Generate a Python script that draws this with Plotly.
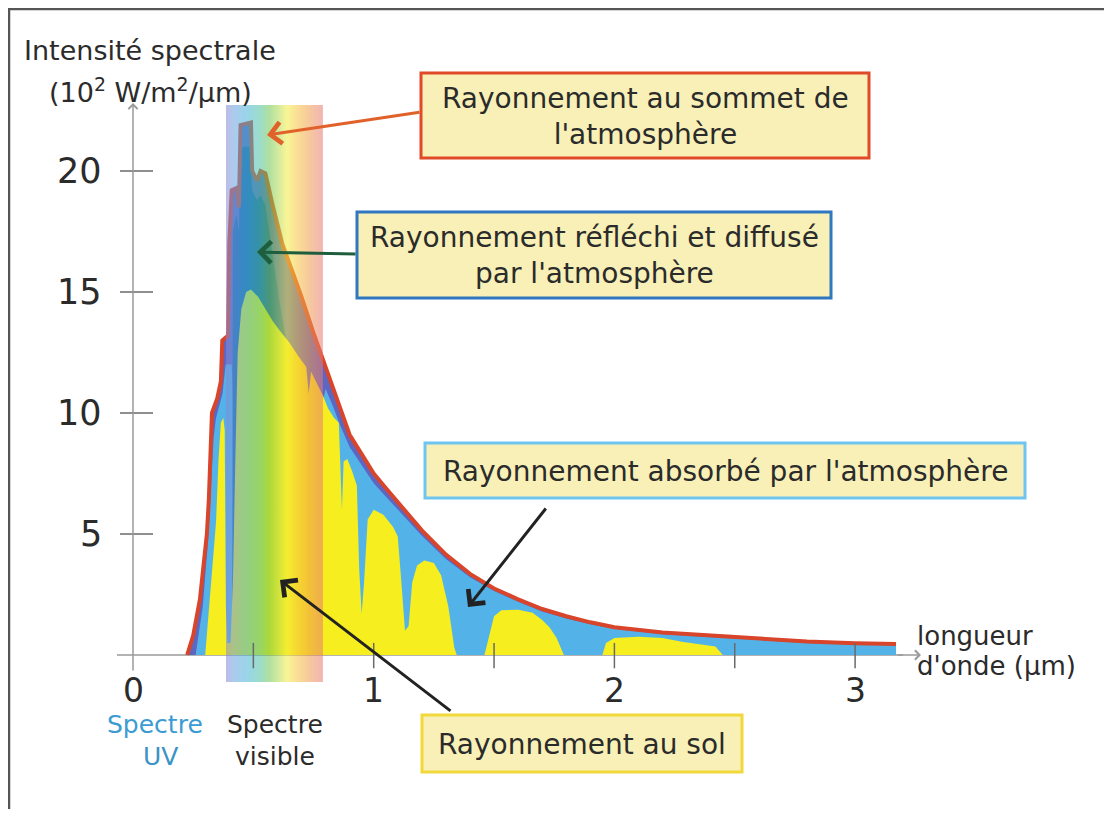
import base64
import plotly.graph_objects as go

# ---------------- data (µm, 10^2 W/m2/µm) ----------------
toa_x = [0.225, 0.25, 0.278, 0.30, 0.307, 0.315, 0.328, 0.35, 0.365, 0.371, 0.385, 0.395,
         0.40, 0.41, 0.43, 0.44, 0.447, 0.49, 0.495, 0.515, 0.53, 0.55, 0.58, 0.62, 0.66,
         0.70, 0.75, 0.80, 0.86, 0.90, 0.95, 1.00, 1.05, 1.10, 1.15, 1.20, 1.30, 1.40,
         1.50, 1.60, 1.70, 1.80, 1.90, 2.00, 2.20, 2.40, 2.60, 2.80, 3.00, 3.17]
toa_y = [0.0, 0.8, 2.3, 4.2, 5.0, 6.4, 10.0, 10.6, 11.3, 13.0, 13.1, 13.2,
         17.0, 19.2, 19.3, 18.5, 21.9, 22.0, 20.0, 19.6, 20.0, 19.9, 18.6, 17.0, 15.9,
         14.8, 13.3, 11.9, 10.1, 9.1, 8.3, 7.5, 6.9, 6.3, 5.7, 5.15, 4.15, 3.35,
         2.75, 2.3, 1.9, 1.6, 1.35, 1.15, 0.93, 0.8, 0.66, 0.56, 0.49, 0.45]

absorbed_x = [0.26, 0.29, 0.31, 0.325, 0.335, 0.345, 0.36, 0.372, 0.385, 0.41, 0.425, 0.45,
              0.70, 0.78, 0.80, 0.83, 0.86, 0.90, 0.95, 1.00, 1.05, 1.10, 1.15, 1.20, 1.30,
              1.40, 1.50, 1.60, 1.70, 1.80, 1.90, 2.00, 2.20, 2.40, 2.60, 2.80, 3.00, 3.17]
absorbed_y = [0.0, 2.0, 4.5, 7.0, 9.0, 9.8, 10.3, 10.8, 12.0, 12.0, 8.0, 8.0,
              8.0, 10.0, 11.0, 10.3, 9.5, 8.6, 7.85, 7.1, 6.55, 6.0, 5.45, 4.93, 3.97,
              3.21, 2.64, 2.2, 1.8, 1.51, 1.27, 1.08, 0.86, 0.73, 0.6, 0.5, 0.43, 0.39]

scattered_x = [0.412, 0.415, 0.43, 0.44, 0.447, 0.455, 0.485, 0.495, 0.515, 0.53,
               0.55, 0.58, 0.61, 0.64, 0.66]
scattered_y = [0.0, 17.5, 18.2, 17.5, 20.5, 21.0, 21.0, 19.2, 18.8, 19.0,
               18.6, 16.5, 14.5, 12.8, 0.0]

ground_x = [0.30, 0.32, 0.345, 0.355, 0.365, 0.375, 0.381, 0.386, 0.392, 0.405, 0.415,
            0.425, 0.435, 0.45, 0.47, 0.49, 0.52, 0.55, 0.58, 0.61, 0.65, 0.69, 0.72,
            0.73, 0.74, 0.76, 0.79, 0.81, 0.835, 0.855, 0.862, 0.868, 0.875, 0.89, 0.91,
            0.93, 0.94, 0.95, 0.96, 0.975, 1.00, 1.04, 1.08, 1.10, 1.115, 1.13, 1.145,
            1.16, 1.18, 1.21, 1.25, 1.28, 1.31, 1.335, 1.345, 1.46, 1.475, 1.50, 1.53,
            1.60, 1.66, 1.70, 1.73, 1.76, 1.79, 1.95, 1.965, 2.00, 2.10, 2.20, 2.28,
            2.35, 2.42, 2.45]
ground_y = [0.0, 2.3, 5.5, 8.0, 9.6, 9.8, 9.3, 2.0, 0.5, 0.5, 3.0,
            8.0, 12.5, 14.3, 15.0, 15.1, 14.8, 14.3, 13.8, 13.4, 12.9, 12.3, 11.9,
            10.8, 11.7, 11.3, 10.7, 10.2, 9.8, 9.6, 8.0, 6.0, 8.0, 8.1, 7.6,
            7.0, 3.5, 1.7, 3.0, 5.6, 6.0, 5.8, 5.3, 4.9, 3.0, 1.0, 1.2,
            3.0, 3.7, 3.9, 3.8, 3.3, 2.0, 0.3, 0.0, 0.0, 0.6, 1.6, 1.85,
            1.87, 1.75, 1.45, 1.15, 0.7, 0.0, 0.0, 0.5, 0.7, 0.75, 0.7, 0.55,
            0.45, 0.35, 0.0]

x_tick_labels = ["0", "1", "2", "3"]
x_tick_values = [0, 1, 2, 3]
x_minor_ticks = [0.5, 1, 1.5, 2, 2.5, 3]
y_tick_values = [5, 10, 15, 20]
y_tick_labels = ["5", "10", "15", "20"]
visible_band = [0.386, 0.789]

# ---------------- geometry ----------------
OFF = 8                  # page (body) margin in the browser
W, H = 1096, 801         # figure size; page pixels = figure pixels + OFF
X0, SX = 133.0, 240.7    # page pixel of x=0, pixels per µm
Y0, SY = 655.0, 24.2     # page pixel of y=0, pixels per unit


def dx(p):
    return (p - X0) / SX


def dy(p):
    return (Y0 - p) / SY


def px(p):
    return (p - OFF) / W


def py(p):
    return 1 - (p - OFF) / H


FONT = "DejaVu Sans"
TXT = "#2b2b2b"

fig = go.Figure()

fig.add_trace(go.Scatter(x=toa_x, y=toa_y, mode="lines", fill="tozeroy",
                         fillcolor="#5d66c0", line=dict(width=0, color="#5d66c0"),
                         hoverinfo="skip", showlegend=False))
fig.add_trace(go.Scatter(x=absorbed_x, y=absorbed_y, mode="lines", fill="tozeroy",
                         fillcolor="#53b3e9", line=dict(width=0, color="#53b3e9"),
                         hoverinfo="skip", showlegend=False))
fig.add_trace(go.Scatter(x=scattered_x, y=scattered_y, mode="lines", fill="tozeroy",
                         fillcolor="#1c5ca8", line=dict(width=0, color="#1c5ca8"),
                         hoverinfo="skip", showlegend=False))
fig.add_trace(go.Scatter(x=ground_x, y=ground_y, mode="lines", fill="tozeroy",
                         fillcolor="#f6ee1e", line=dict(width=0, color="#f6ee1e"),
                         hoverinfo="skip", showlegend=False))
fig.add_trace(go.Scatter(x=toa_x, y=toa_y, mode="lines",
                         line=dict(width=4, color="#d8452a"),
                         hoverinfo="skip", showlegend=False))

# ---------------- visible spectrum band (gradient overlay) ----------------
stops = [(0.0, "#8a86d4"), (0.08, "#6aa0e0"), (0.22, "#46b4d8"), (0.35, "#4cc0a0"),
         (0.45, "#70c850"), (0.55, "#b8dc50"), (0.63, "#f4ee40"), (0.75, "#f6c040"),
         (0.87, "#f09a50"), (1.0, "#e87878")]
stop_xml = "".join(f"<stop offset='{o}' stop-color='{c}'/>" for o, c in stops)
svg = ("<svg xmlns='http://www.w3.org/2000/svg' width='200' height='200' "
       "viewBox='0 0 200 200' preserveAspectRatio='none'><defs>"
       "<linearGradient id='g' x1='0' y1='0' x2='1' y2='0'>" + stop_xml +
       "</linearGradient></defs><rect x='0' y='0' width='200' height='200' fill='url(#g)'/></svg>")
uri = "data:image/svg+xml;base64," + base64.b64encode(svg.encode()).decode()
band_top, band_bottom = dy(105), dy(682)
fig.add_layout_image(dict(source=uri, xref="x", yref="y", x=visible_band[0], y=band_top,
                          sizex=visible_band[1] - visible_band[0], sizey=band_top - band_bottom,
                          xanchor="left", yanchor="top", sizing="stretch",
                          opacity=0.55, layer="above"))

shapes = []
AX = "#9a9a9a"
# x axis line (under the data)
shapes.append(dict(type="line", xref="x", yref="y", x0=dx(117), x1=3.2, y0=0, y1=0,
                   line=dict(color=AX, width=1.5), layer="below"))
# ticks
for t in x_minor_ticks:
    shapes.append(dict(type="line", xref="x", yref="y", x0=t, x1=t, y0=-0.55, y1=0.5,
                       line=dict(color="#6a6a6a", width=1.5), layer="above"))
for t in y_tick_values:
    shapes.append(dict(type="line", xref="x", yref="y", x0=dx(120), x1=dx(153), y0=t, y1=t,
                       line=dict(color="#6a6a6a", width=1.5), layer="above"))
# frame
shapes.append(dict(type="line", xref="paper", yref="paper", x0=px(8), x1=1, y0=py(9), y1=py(9),
                   line=dict(color="#555555", width=2.5)))
shapes.append(dict(type="line", xref="paper", yref="paper", x0=px(9), x1=px(9), y0=py(8), y1=0,
                   line=dict(color="#555555", width=2.5)))

# label boxes
boxes = [
    ((421, 73, 869, 158), "#e04a28", "Rayonnement au sommet de<br>l'atmosphère"),
    ((357, 212, 831, 298), "#2f77bf", "Rayonnement réfléchi et diffusé<br>par l'atmosphère"),
    ((425, 443, 1025, 498), "#6ec6f0", "Rayonnement absorbé par l'atmosphère"),
    ((422, 715, 742, 772), "#f2d83a", "Rayonnement au sol"),
]
annotations = []
for (x0, y0, x1, y1), col, txt in boxes:
    shapes.append(dict(type="rect", xref="paper", yref="paper", x0=px(x0), x1=px(x1),
                       y0=py(y0), y1=py(y1), fillcolor="#f8f0b6",
                       line=dict(color=col, width=3), layer="above"))
    annotations.append(dict(xref="paper", yref="paper", x=px((x0 + x1) / 2), y=py((y0 + y1) / 2 + 1),
                            text=txt, showarrow=False, xanchor="center", yanchor="middle",
                            font=dict(family=FONT, size=28, color=TXT), align="center"))

# arrows (head -> x,y ; tail -> ax,ay)
arrows = [
    ((267, 135), (421, 112), "#e0622a"),
    ((257, 252), (357, 254), "#1e5e3c"),
    ((468, 607), (547, 507), "#222222"),
    ((280, 580), (452, 712), "#222222"),
]
for (hx, hy), (tx, ty), col in arrows:
    annotations.append(dict(xref="x", yref="y", axref="x", ayref="y",
                            x=dx(hx), y=dy(hy), ax=dx(tx), ay=dy(ty), text="",
                            showarrow=True, arrowhead=4, arrowsize=1.4, arrowwidth=3,
                            arrowcolor=col))

# axis arrows
annotations.append(dict(xref="x", yref="y", axref="x", ayref="y", x=0, y=dy(103), ax=0, ay=dy(672),
                        text="", showarrow=True, arrowhead=4, arrowsize=1.2, arrowwidth=1.5,
                        arrowcolor=AX))
annotations.append(dict(xref="x", yref="y", axref="x", ayref="y", x=dx(921), y=0, ax=3.17, ay=0,
                        text="", showarrow=True, arrowhead=4, arrowsize=1.2, arrowwidth=1.5,
                        arrowcolor=AX))

# tick labels
for v, lab in zip(x_tick_values, x_tick_labels):
    annotations.append(dict(xref="x", yref="y", x=v, y=dy(690), text=lab, showarrow=False,
                            xanchor="center", yanchor="middle",
                            font=dict(family=FONT, size=33, color=TXT)))
for v, lab in zip(y_tick_values, y_tick_labels):
    annotations.append(dict(xref="x", yref="y", x=dx(104), y=v, text=lab, showarrow=False,
                            xanchor="right", yanchor="middle",
                            font=dict(family=FONT, size=35, color=TXT)))

# axis titles and band labels
texts = [
    (22, 50, "left", "Intensité spectrale", 27, TXT),
    (47, 90, "left", "(10<sup>2</sup> W/m<sup>2</sup>/µm)", 27, TXT),
    (915, 636, "left", "longueur", 26, TXT),
    (915, 666, "left", "d'onde (µm)", 26, TXT),
    (155, 724, "center", "Spectre", 25, "#3b9bd3"),
    (160, 756, "center", "UV", 25, "#3b93c6"),
    (275, 724, "center", "Spectre", 25, TXT),
    (275, 756, "center", "visible", 25, TXT),
]
for x, y, anc, t, s, c in texts:
    annotations.append(dict(xref="paper", yref="paper", x=px(x), y=py(y), text=t,
                            showarrow=False, xanchor=anc, yanchor="middle",
                            font=dict(family=FONT, size=s, color=c)))

fig.update_layout(
    width=W, height=H, autosize=False,
    margin=dict(l=0, r=0, t=0, b=0, pad=0),
    paper_bgcolor="white", plot_bgcolor="white",
    xaxis=dict(range=[dx(OFF), dx(OFF + W)], visible=False, fixedrange=True),
    yaxis=dict(range=[dy(OFF + H), dy(OFF)], visible=False, fixedrange=True),
    shapes=shapes, annotations=annotations, showlegend=False,
)

fig.write_html("out.html", config={"displayModeBar": False})
